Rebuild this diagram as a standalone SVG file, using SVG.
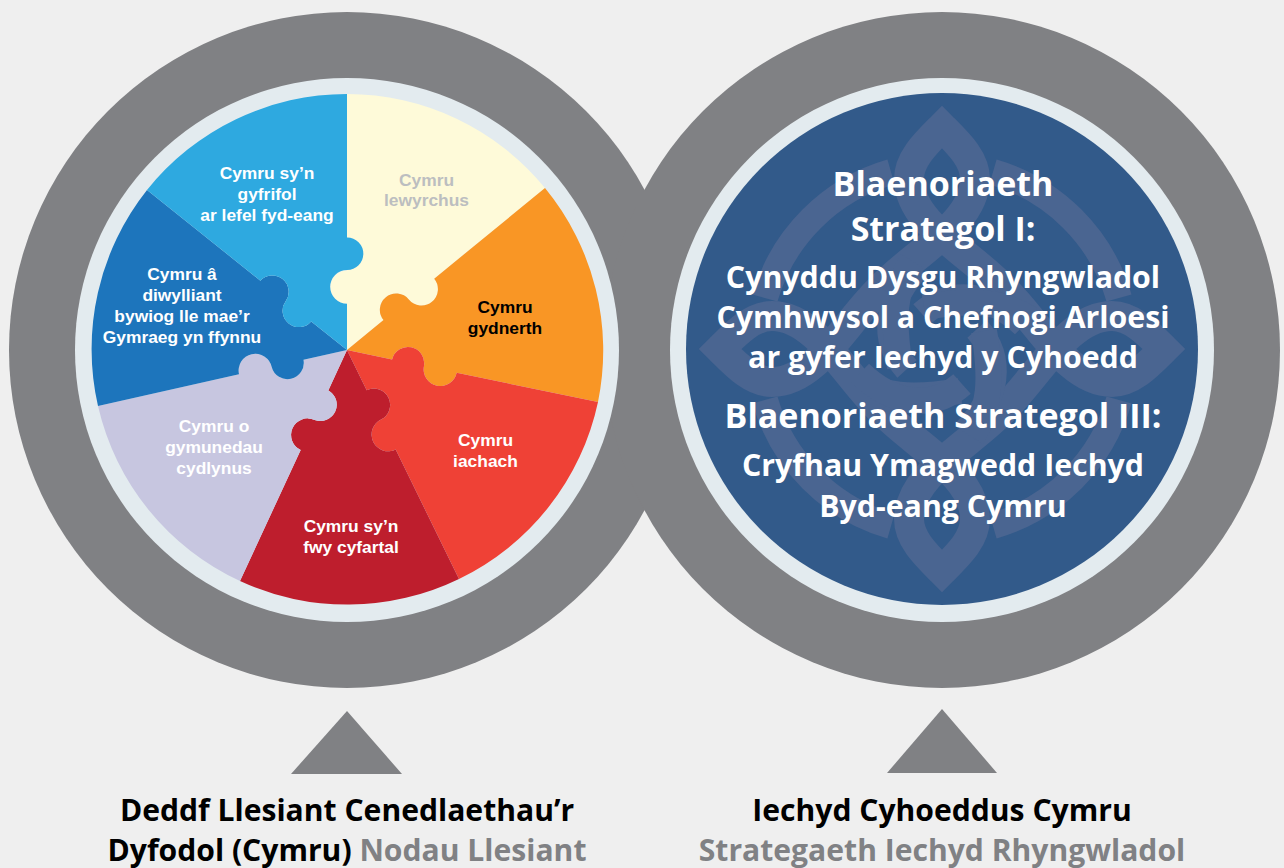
<svg xmlns="http://www.w3.org/2000/svg" xmlns:xlink="http://www.w3.org/1999/xlink" width="1284" height="868" viewBox="0 0 1284 868">
<style>
.grey{fill:#808184}
.ring{fill:#e3ebef}
.pie{font-family:"Liberation Sans",Arial,sans-serif;font-weight:700;font-size:17.4px;text-anchor:middle;fill:#fff}
.rt{font-family:"Open Sans","Noto Sans",sans-serif;font-weight:700;text-anchor:middle;fill:#fff}
.h{font-size:34px}
.s{font-size:30.3px}
.cap{font-family:"Open Sans","Noto Sans",sans-serif;font-weight:700;font-size:30.1px;text-anchor:middle;fill:#000}
.capg{fill:#808184}
.knot{fill:none;stroke:#4a6591;stroke-width:30;stroke-linejoin:miter;stroke-miterlimit:6}
</style>
<defs>
<g id="knotPart">
<path d="M62,-60 C30,-95 -33,-125 -33,-170 C-33,-190 -16,-206 0,-222 C16,-206 33,-190 33,-170 C33,-125 -30,-95 -62,-60"/>
<path d="M51,-177 A184,184 0 0 1 177,-51" stroke-width="26"/>
<path d="M-88,30 C-60,48 -30,50 18,42" stroke-width="26"/>
<path d="M-24,-82 C-55,-50 -62,-10 -35,20" stroke-width="26"/>
</g>
</defs>
<rect width="1284" height="868" fill="#efefef"/>
<g id="discs">
<circle class="grey" cx="347" cy="350" r="338"/>
<circle class="grey" cx="942" cy="350" r="338"/>
</g>
<g id="left-wheel">
<circle class="ring" cx="347" cy="350" r="272"/>
<g id="yellow"><path fill="#fefad9" d="M347,350L347,303.7A16.3,16.3 0 0 1 347,270.4L347,270A16.3,16.3 0 0 0 347,237.4L347,94A256,256 0 0 1 545,188L434.2,278.7A16.3,16.3 0 0 1 408.8,299.5A16.3,16.3 0 0 0 383.5,320.1Z"/>
<text class="pie" style="fill:#bcbec0"><tspan x="426.5" y="186">Cymru</tspan><tspan x="426.5" y="206">lewyrchus</tspan></text></g>
<g id="orange"><path fill="#f99625" d="M347,350L383.5,320.1A16.3,16.3 0 0 1 408.8,299.5A16.3,16.3 0 0 0 434.2,278.7L545,188A256,256 0 0 1 598,402L456.7,372.8A16.3,16.3 0 0 1 424,366A16.3,16.3 0 0 0 392.1,359.4Z"/>
<text class="pie" style="fill:#000"><tspan x="505" y="313">Cymru</tspan><tspan x="505" y="334">gydnerth</tspan></text></g>
<g id="red"><path fill="#ef4136" d="M347,350L392.1,359.4A16.3,16.3 0 0 1 424,366A16.3,16.3 0 0 0 456.7,372.8L598,402A256,256 0 0 1 459,579L395.7,449.6A16.3,16.3 0 0 1 381,419.5A16.3,16.3 0 0 0 366.7,390.2Z"/>
<text class="pie"><tspan x="485.5" y="446">Cymru</tspan><tspan x="485.5" y="467">iachach</tspan></text></g>
<g id="crimson"><path fill="#be1e2d" d="M347,350L366.7,390.2A16.3,16.3 0 0 1 381,419.5A16.3,16.3 0 0 0 395.7,449.6L459,579A256,256 0 0 1 240,581L300.7,450A16.3,16.3 0 0 1 314.6,419.9A16.3,16.3 0 0 0 328.3,390.4Z"/>
<text class="pie"><tspan x="351" y="532">Cymru sy’n</tspan><tspan x="351" y="553">fwy cyfartal</tspan></text></g>
<g id="lilac"><path fill="#c7c6e0" d="M347,350L328.3,390.4A16.3,16.3 0 0 1 314.6,419.9A16.3,16.3 0 0 0 300.7,450L240,581A256,256 0 0 1 98,406L239,374.2A16.3,16.3 0 0 1 271.7,366.9A16.3,16.3 0 0 0 303.5,359.8Z"/>
<text class="pie"><tspan x="214" y="432">Cymru o</tspan><tspan x="214" y="453">gymunedau</tspan><tspan x="214" y="474">cydlynus</tspan></text></g>
<g id="dark-blue"><path fill="#1d75bc" d="M347,350L303.5,359.8A16.3,16.3 0 0 1 271.7,366.9A16.3,16.3 0 0 0 239,374.2L98,406A256,256 0 0 1 147,190L260.4,280.7A16.3,16.3 0 0 1 285.8,301A16.3,16.3 0 0 0 311.2,321.4Z"/>
<text class="pie"><tspan x="182" y="280">Cymru â</tspan><tspan x="182" y="301">diwylliant</tspan><tspan x="182" y="322">bywiog lle mae’r</tspan><tspan x="182" y="343">Gymraeg yn ffynnu</tspan></text></g>
<g id="light-blue"><path fill="#2ea9e0" d="M347,350L311.2,321.4A16.3,16.3 0 0 1 285.8,301A16.3,16.3 0 0 0 260.4,280.7L147,190A256,256 0 0 1 347,94L347,237.4A16.3,16.3 0 0 1 347,270A16.3,16.3 0 0 0 347,303.7Z"/>
<text class="pie"><tspan x="267" y="179">Cymru sy’n</tspan><tspan x="267" y="200">gyfrifol</tspan><tspan x="267" y="221">ar lefel fyd-eang</tspan></text></g>
</g>
<g id="right-wheel">
<circle class="ring" cx="942" cy="350" r="272"/>
<circle cx="942" cy="349" r="256" fill="#325a8a"/>
<g id="knot" class="knot" transform="translate(942,349)">
<use xlink:href="#knotPart" href="#knotPart"/>
<use xlink:href="#knotPart" href="#knotPart" transform="rotate(90)"/>
<use xlink:href="#knotPart" href="#knotPart" transform="rotate(180)"/>
<use xlink:href="#knotPart" href="#knotPart" transform="rotate(270)"/>
</g>
<text class="rt h" x="943" y="196">Blaenoriaeth</text>
<text class="rt h" x="943" y="241">Strategol I:</text>
<text class="rt s" x="943" y="288">Cynyddu Dysgu Rhyngwladol</text>
<text class="rt s" x="943" y="328">Cymhwysol a Chefnogi Arloesi</text>
<text class="rt s" x="943" y="368">ar gyfer Iechyd y Cyhoedd</text>
<text class="rt h" x="943" y="428">Blaenoriaeth Strategol III:</text>
<text class="rt s" x="943" y="476">Cryfhau Ymagwedd Iechyd</text>
<text class="rt s" x="943" y="517">Byd-eang Cymru</text>
</g>
<g id="connectors">
<polygon class="grey" points="347,711 402,774 291,774"/>
<polygon class="grey" points="942,709 997,773 887,773"/>
</g>
<g id="caption-left">
<text class="cap" x="347" y="820.5">Deddf Llesiant Cenedlaethau’r</text>
<text class="cap" x="347" y="860.5">Dyfodol (Cymru) <tspan class="capg">Nodau Llesiant</tspan></text>
</g>
<g id="caption-right">
<text class="cap" x="942" y="820.5">Iechyd Cyhoeddus Cymru</text>
<text class="cap capg" x="942" y="860.5">Strategaeth Iechyd Rhyngwladol</text>
</g>
</svg>
